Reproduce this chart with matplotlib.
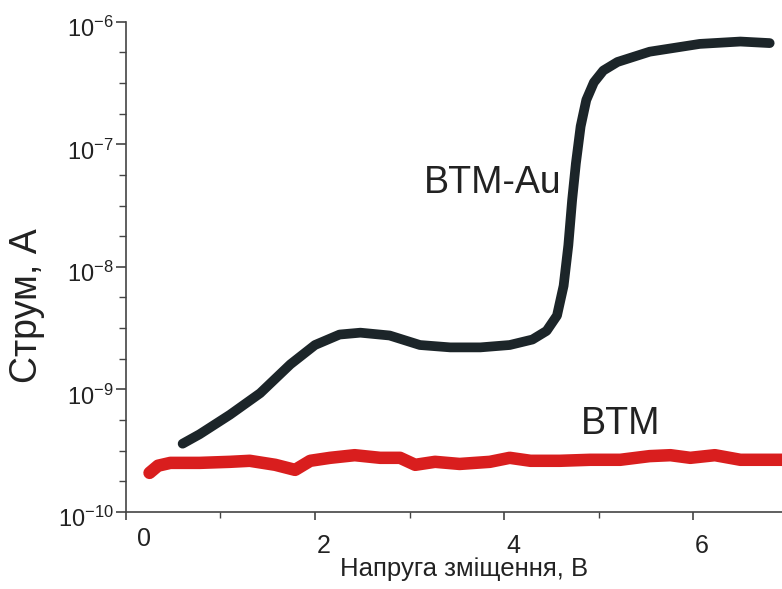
import numpy as np
import matplotlib
matplotlib.use("Agg")
from matplotlib import pyplot
from matplotlib import transforms
from matplotlib.ticker import FixedLocator, LogFormatterSciNotation

btm_au_x = [0.60, 0.78, 1.10, 1.42, 1.74, 2.00, 2.26, 2.48, 2.79, 3.11, 3.43, 3.75,
            4.06, 4.30, 4.45, 4.56, 4.63, 4.68, 4.72, 4.76, 4.81, 4.87, 4.95, 5.05,
            5.20, 5.54, 6.07, 6.50, 6.81]
btm_au_y = [3.6e-10, 4.3e-10, 6.2e-10, 9.3e-10, 1.6e-9, 2.3e-9, 2.8e-9, 2.9e-9,
            2.75e-9, 2.3e-9, 2.2e-9, 2.2e-9, 2.3e-9, 2.55e-9, 3.0e-9, 4.0e-9, 7.0e-9,
            1.5e-8, 3.5e-8, 7.0e-8, 1.4e-7, 2.3e-7, 3.2e-7, 4.0e-7, 4.7e-7, 5.7e-7,
            6.6e-7, 6.9e-7, 6.7e-7]

btm_x = [0.25, 0.34, 0.47, 0.78, 1.10, 1.31, 1.58, 1.79, 1.95, 2.16, 2.42, 2.69,
         2.90, 3.06, 3.27, 3.53, 3.85, 4.06, 4.28, 4.59, 4.91, 5.23, 5.54, 5.76,
         5.97, 6.23, 6.50, 6.94]
btm_y = [2.08e-10, 2.38e-10, 2.51e-10, 2.51e-10, 2.56e-10, 2.61e-10, 2.42e-10,
         2.2e-10, 2.61e-10, 2.76e-10, 2.9e-10, 2.76e-10, 2.76e-10, 2.42e-10,
         2.56e-10, 2.46e-10, 2.56e-10, 2.76e-10, 2.61e-10, 2.61e-10, 2.66e-10,
         2.66e-10, 2.85e-10, 2.9e-10, 2.76e-10, 2.9e-10, 2.66e-10, 2.66e-10]

xlabel = "Напруга зміщення, В"
ylabel = "Струм, А"

pyplot.rcParams['font.family'] = ['Liberation Sans', 'DejaVu Sans']
pyplot.rcParams['mathtext.fontset'] = 'custom'
pyplot.rcParams['mathtext.rm'] = 'Liberation Sans'
pyplot.rcParams['axes.unicode_minus'] = False

fig = pyplot.figure(figsize=(7.82, 5.89), dpi=100)
ax = fig.add_axes([0.161, 0.131, 0.839, 0.832])

ax.plot(btm_au_x, btm_au_y, color="#1c2529", lw=7, solid_capstyle="round",
        solid_joinstyle="round")
ax.plot(btm_x, btm_y, color="#d91e1e", lw=9, solid_capstyle="round",
        solid_joinstyle="round")

ax.set_yscale("log")
ax.set_ylim(1e-10, 1e-6)
ax.set_xlim(0, 6.94)

# quarter-decade minor ticks like the original
minors = [10.0 ** (e + f) for e in range(-10, -6) for f in (0.25, 0.5, 0.75)]
ax.yaxis.set_major_locator(FixedLocator([1e-10, 1e-9, 1e-8, 1e-7, 1e-6]))
ax.yaxis.set_minor_locator(FixedLocator(minors))
ax.yaxis.set_major_formatter(LogFormatterSciNotation())
ax.yaxis.set_minor_formatter(pyplot.NullFormatter())
ax.set_xticks([0, 2, 4, 6])
ax.set_xticks([1, 3, 5], minor=True)

for side in ("top", "right"):
    ax.spines[side].set_visible(False)
for side in ("left", "bottom"):
    ax.spines[side].set_color("#444444")
    ax.spines[side].set_linewidth(1.2)

ax.tick_params(axis="y", which="major", length=7, width=1.2, color="#444444",
               labelsize=17, labelcolor="#222222", pad=2)
ax.tick_params(axis="y", which="minor", length=5, width=1.0, color="#444444")
ax.tick_params(axis="x", which="major", length=6, width=1.2, color="#444444",
               labelsize=18, labelcolor="#222222", pad=10)
ax.tick_params(axis="x", which="minor", length=4, width=1.0, color="#444444")

# the hand-drawn original has its tick labels a little off the ticks
px = 1 / fig.dpi
for i, lab in enumerate(ax.get_xticklabels()):
    dx, dy = (18, 7) if i == 0 else (9, 0)
    lab.set_transform(lab.get_transform() +
                      transforms.ScaledTranslation(dx * px, dy * px, fig.dpi_scale_trans))
for lab in ax.get_yticklabels():
    lab.set_transform(lab.get_transform() +
                      transforms.ScaledTranslation(0, -5 * px, fig.dpi_scale_trans))

fig.text(340 / 782, 1 - 569 / 589, xlabel, fontsize=18.5, color="#222222",
         ha="left", va="center")
fig.text(27 / 782, 1 - 306 / 589, ylabel, fontsize=27, color="#222222",
         ha="center", va="center", rotation=90)

ax.text(4.61, 4.8e-8, "BTM-Au", fontsize=27, color="#222222", ha="right", va="center")
ax.text(5.65, 5.2e-10, "BTM", fontsize=27, color="#222222", ha="right", va="center")

fig.savefig("out.png", dpi=100, facecolor="white")
